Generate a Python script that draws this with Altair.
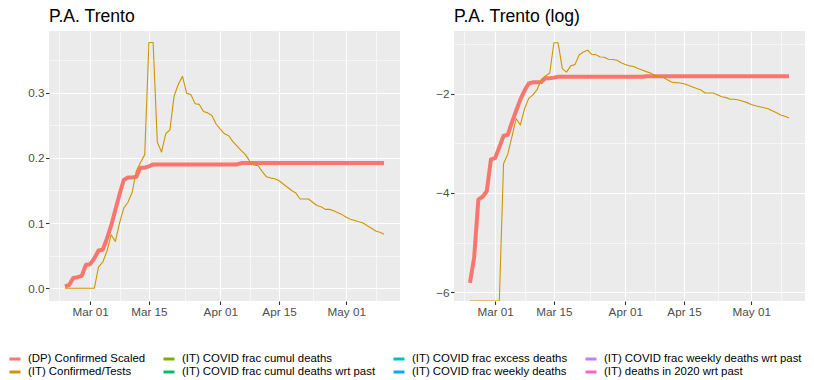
import altair as alt
import pandas as pd

# ---------------- data ----------------
dates = pd.date_range("2020-02-24", "2020-05-10", freq="D").strftime("%Y-%m-%d").tolist()

confirmed_scaled = [
    0.003, 0.005, 0.016, 0.017, 0.019, 0.036,                      # Feb 24-29
    0.037, 0.046, 0.058, 0.059, 0.076, 0.096, 0.120, 0.144, 0.166,  # Mar 1-9
    0.170, 0.170, 0.171, 0.185, 0.185, 0.187,                      # Mar 10-15
    0.190, 0.190, 0.190, 0.190, 0.190, 0.190, 0.190, 0.190,        # Mar 16-23
    0.190, 0.190, 0.190, 0.190, 0.190, 0.190, 0.190, 0.190,        # Mar 24-31
    0.190, 0.190, 0.190, 0.190, 0.190,                             # Apr 1-5
    0.192, 0.192, 0.192, 0.192, 0.192, 0.192, 0.192, 0.192, 0.192, 0.192,  # Apr 6-15
    0.192, 0.192, 0.192, 0.192, 0.192, 0.192, 0.192, 0.192, 0.192, 0.192,  # Apr 16-25
    0.192, 0.192, 0.192, 0.192, 0.192,                             # Apr 26-30
    0.192, 0.192, 0.192, 0.192, 0.192, 0.192, 0.192, 0.192, 0.192, 0.192,  # May 1-10
]

confirmed_tests = [
    0.0, 0.0, 0.0, 0.0, 0.0, 0.0, 0.0, 0.0,                        # Feb 24 - Mar 2
    0.033, 0.040, 0.057, 0.082, 0.072, 0.100, 0.123, 0.132, 0.147,  # Mar 3-11
    0.180, 0.193, 0.205, 0.377, 0.377, 0.224, 0.209, 0.237, 0.243,  # Mar 12-20
    0.295, 0.313, 0.325, 0.299, 0.297, 0.283, 0.282, 0.271, 0.269,  # Mar 21-29
    0.265, 0.252,                                                  # Mar 30-31
    0.244, 0.237, 0.234, 0.225, 0.218, 0.211, 0.205, 0.195, 0.189, 0.188,  # Apr 1-10
    0.179, 0.171, 0.169, 0.168, 0.165, 0.160, 0.155, 0.150, 0.146, 0.137,  # Apr 11-20
    0.137, 0.137, 0.132, 0.127, 0.125, 0.121, 0.121, 0.119, 0.116, 0.113,  # Apr 21-30
    0.109, 0.106, 0.104, 0.102, 0.100, 0.096, 0.092, 0.088, 0.086, 0.083,  # May 1-10
]

series_names = [
    "(DP) Confirmed Scaled",
    "(IT) Confirmed/Tests",
    "(IT) COVID frac cumul deaths",
    "(IT) COVID frac cumul deaths wrt past",
    "(IT) COVID frac excess deaths",
    "(IT) COVID frac weekly deaths",
    "(IT) COVID frac weekly deaths wrt past",
    "(IT) deaths in 2020 wrt past",
]
series_colors = ["#F8766D", "#CD9600", "#7CAE00", "#00BE67",
                 "#00BFC4", "#00A9FF", "#C77CFF", "#FF61CC"]

left_major = [0.0, 0.1, 0.2, 0.3]
left_minor = [0.05, 0.15, 0.25, 0.35]
left_domain = [-0.0195, 0.3946]

log_major = [-6, -4, -2]
log_minor = [-5, -3, -1]
log_domain = [-6.175, -0.738]

# ---------------- table ----------------
rows = []
for d, a, b in zip(dates, confirmed_scaled, confirmed_tests):
    rows.append({"date": d, "series": series_names[0], "value": a})
    rows.append({"date": d, "series": series_names[1], "value": b})
df = pd.DataFrame(rows)

# legend filled column-wise like ggplot (4 columns x 2 rows)
order = [0, 2, 4, 6, 1, 3, 5, 7]
legend_domain = [series_names[i] for i in order]
legend_range = [series_colors[i] for i in order]

FONT = "Liberation Sans"

color_enc = alt.Color(
    "series:N",
    scale=alt.Scale(domain=legend_domain, range=legend_range),
    legend=alt.Legend(
        orient="none", legendX=-41, legendY=321, columns=4, title=None,
        direction="horizontal", symbolType="stroke", symbolStrokeWidth=3,
        symbolSize=121, labelFont=FONT, labelFontSize=11.4, labelColor="black",
        labelLimit=400, columnPadding=11, rowPadding=-3, labelOffset=6,
    ),
)

x_domain = [
    alt.DateTime(year=2020, month=2, date=20, hours=4, minutes=48, utc=True),
    alt.DateTime(year=2020, month=5, date=13, hours=19, minutes=12, utc=True),
]
x_values = [
    alt.DateTime(year=2020, month=2, date=22, hours=12, utc=True),
    alt.DateTime(year=2020, month=3, date=1, utc=True),
    alt.DateTime(year=2020, month=3, date=8, utc=True),
    alt.DateTime(year=2020, month=3, date=15, utc=True),
    alt.DateTime(year=2020, month=3, date=23, hours=12, utc=True),
    alt.DateTime(year=2020, month=4, date=1, utc=True),
    alt.DateTime(year=2020, month=4, date=8, utc=True),
    alt.DateTime(year=2020, month=4, date=15, utc=True),
    alt.DateTime(year=2020, month=4, date=23, utc=True),
    alt.DateTime(year=2020, month=5, date=1, utc=True),
    alt.DateTime(year=2020, month=5, date=8, utc=True),
]
x_major_test = "utcdate(datum.value) == 1 || utcdate(datum.value) == 15"


def make_axis(values, major_test, fmt, y=False):
    kw = dict(
        values=values, domain=False, grid=True, gridColor="white",
        gridWidth={"condition": {"test": major_test, "value": 1.1}, "value": 0.55},
        tickColor="#333333", tickWidth=1.1, tickSize=3.5,
        tickOpacity={"condition": {"test": major_test, "value": 1}, "value": 0},
        labelExpr="(%s) ? datum.label : ''" % major_test,
        labelColor="#4D4D4D", labelFont=FONT, labelFontSize=11.7,
        labelPadding=1.5, format=fmt, title=None, labelFlush=False,
        labelOverlap=False,
    )
    if y:
        kw.update(minExtent=41, maxExtent=41)
    return alt.Axis(**kw)


x_axis = make_axis(x_values, x_major_test, "%b %d")


def panel(title, calc, y_values, y_test, y_fmt, y_domain):
    base = alt.Chart(df).transform_calculate(yv=calc)
    x_enc = alt.X("date:T", scale=alt.Scale(type="utc", domain=x_domain, nice=False),
                  axis=x_axis, title=None)
    y_enc = alt.Y("yv:Q", scale=alt.Scale(domain=y_domain, nice=False, zero=False),
                  axis=make_axis(y_values, y_test, y_fmt, y=True), title=None)
    red = base.transform_filter(alt.datum.series == series_names[0]).mark_line(
        strokeWidth=4, strokeJoin="round", clip=True
    ).encode(x=x_enc, y=y_enc, color=color_enc)
    gold = base.transform_filter(alt.datum.series == series_names[1]).mark_line(
        strokeWidth=1.1, strokeJoin="round", clip=True
    ).encode(x=x_enc, y=y_enc, color=color_enc)
    return alt.layer(red, gold).properties(
        width=351, height=270,
        title=alt.TitleParams(title, anchor="start", frame="group", font=FONT,
                              fontSize=17.6, fontWeight="normal", color="black",
                              offset=5),
    )


left = panel("P.A. Trento", "datum.value",
             left_major + left_minor,
             "abs(datum.value*10 - round(datum.value*10)) < 1e-6", ".1f", left_domain)
right = panel("P.A. Trento (log)",
              "datum.value > 0 ? log(datum.value) : %s" % log_domain[0],
              log_major + log_minor, "datum.value % 2 == 0", "d", log_domain)

chart = alt.hconcat(left, right, spacing=13).properties(
    padding={"left": 0, "top": 0, "right": 0, "bottom": 0}
).configure(background="white").configure_view(fill="#EBEBEB", stroke=None)

chart.save("out.html", embed_options={"renderer": "svg", "actions": False})
